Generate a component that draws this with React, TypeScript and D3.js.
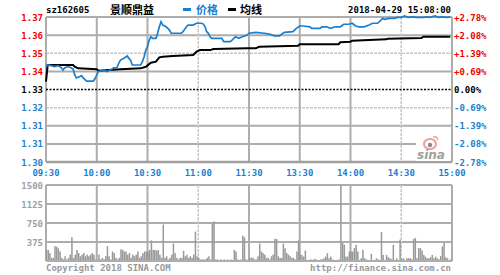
import React from "react";
import * as d3 from "d3";

const TITLE_CODE = "sz162605";
const TITLE_NAME = "景顺鼎益";
const LEGEND = ["价格", "均线"];
const DATE_TEXT = "2018-04-29 15:08:00";
const COPYRIGHT = "Copyright 2018 SINA.COM";
const URL_TEXT = "http://finance.sina.com.cn";

const PRICE_LABELS = ["1.37", "1.36", "1.35", "1.34", "1.33", "1.32", "1.31", "1.31", "1.30"];
const PCT_LABELS = ["+2.78%", "+2.08%", "+1.39%", "+0.69%", "0.00%", "-0.69%", "-1.39%", "-2.08%", "-2.78%"];
const TIME_LABELS = ["09:30", "10:00", "10:30", "11:00", "11:30", "13:30", "14:00", "14:30", "15:00"];
const TIME_MINUTES = [0, 30, 60, 90, 120, 150, 180, 210, 240];
const VOL_TICKS = [1500, 1125, 750, 375];

const PREV_CLOSE = 1.331;
const PRICE_MIN = 1.294;
const PRICE_MAX = 1.368;

// [minute index, price]
const PRICE_SERIES: [number, number][] = [
  [0, 1.3425], [1, 1.3435], [3, 1.3432], [5, 1.3427], [7, 1.3432], [9, 1.3422], [10, 1.3409], [11, 1.342],
  [13, 1.3427], [15, 1.342], [16, 1.3415], [17, 1.3384], [18, 1.3369], [20, 1.3376], [21, 1.3381], [22, 1.3369],
  [24, 1.3353], [26, 1.3353], [28, 1.3353], [29, 1.3366], [30, 1.3384], [31, 1.3402], [32, 1.3404], [34, 1.3409],
  [36, 1.3402], [38, 1.3409], [40, 1.342], [42, 1.3422], [43, 1.3444], [44, 1.346], [46, 1.3469], [48, 1.3481],
  [49, 1.3469], [50, 1.346], [51, 1.3435], [54, 1.3435], [56, 1.3435], [57, 1.3452], [58, 1.3477], [59, 1.3511],
  [60, 1.3528], [61, 1.3562], [62, 1.3579], [63, 1.3571], [65, 1.3571], [66, 1.3597], [67, 1.363], [68, 1.3656],
  [69, 1.3639], [71, 1.363], [72, 1.3622], [73, 1.3613], [74, 1.3597], [80, 1.3597], [81, 1.3605], [83, 1.363],
  [84, 1.3639], [87, 1.3639], [89, 1.3648], [92, 1.3648], [93, 1.3644], [94, 1.363], [95, 1.3605], [96, 1.3597],
  [97, 1.3579], [98, 1.3571], [104, 1.3571], [105, 1.3554], [109, 1.3554], [110, 1.3562], [111, 1.3571], [112, 1.3579],
  [114, 1.3571], [116, 1.3579], [119, 1.3588], [120, 1.3597], [124, 1.3602], [129, 1.3597], [132, 1.3593], [135, 1.3584],
  [138, 1.3584], [140, 1.3597], [141, 1.3602], [146, 1.3605], [148, 1.3622], [150, 1.3634], [152, 1.3634], [156, 1.363],
  [157, 1.3622], [162, 1.3622], [163, 1.363], [166, 1.363], [168, 1.3622], [171, 1.363], [174, 1.363], [176, 1.3643],
  [179, 1.3643], [181, 1.3648], [183, 1.3634], [185, 1.363], [188, 1.363], [191, 1.3639], [193, 1.3648], [196, 1.3648],
  [198, 1.3664], [199, 1.3673], [200, 1.3668], [203, 1.3673], [206, 1.3673], [208, 1.3678], [210, 1.3678], [212, 1.3685],
  [214, 1.3678], [217, 1.3681], [219, 1.3678], [223, 1.3678], [225, 1.3681], [227, 1.3678], [230, 1.3685], [232, 1.3678],
  [234, 1.3681], [237, 1.3678], [239, 1.3681],
];

const AVG_SERIES: [number, number][] = [
  [0, 1.335], [1, 1.3435], [16, 1.3435], [17, 1.3426], [19, 1.3418], [30, 1.3413], [31, 1.3406], [44, 1.3413],
  [56, 1.3418], [59, 1.3426], [62, 1.3447], [65, 1.3452], [67, 1.3474], [69, 1.3477], [75, 1.3481], [87, 1.3486],
  [89, 1.3503], [91, 1.3511], [97, 1.3511], [99, 1.3517], [119, 1.352], [124, 1.352], [126, 1.3528], [149, 1.3533],
  [150, 1.3541], [173, 1.3541], [174, 1.3551], [180, 1.3554], [181, 1.3559], [201, 1.3566], [202, 1.3569], [222, 1.3573],
  [223, 1.3579], [239, 1.3579],
];

const VOLUME_AM = [
  219, 219, 156, 62, 62, 294, 281, 250, 188, 62,
  31, 94, 31, 62, 125, 469, 62, 125, 219, 156,
  94, 125, 156, 94, 125, 94, 125, 156, 125, 31,
  20, 125, 31, 62, 31, 94, 294, 94, 31, 188,
  156, 62, 31, 62, 231, 219, 188, 188, 125, 156,
  62, 125, 94, 125, 188, 62, 94, 156, 188, 188,
  188, 219, 406, 219, 219, 206, 219, 125, 62, 719,
  62, 94, 31, 62, 125, 344, 156, 62, 31, 62,
  62, 200, 94, 125, 62, 94, 62, 125, 581, 94,
  62, 31, 31, 31, 31, 62, 94, 31, 737, 781,
  31, 31, 20, 31, 20, 31, 20, 31, 20, 31,
  20, 219, 188, 31, 20, 31, 500, 469, 31, 20,
];
const VOLUME_PM = [
  62, 62, 62, 31, 31, 94, 344, 188, 156, 125,
  62, 62, 31, 94, 125, 437, 437, 94, 62, 62,
  344, 250, 156, 125, 94, 62, 62, 31, 188, 406,
  125, 120, 87, 208, 20, 20, 33, 20, 33, 40,
  20, 20, 33, 33, 54, 87, 154, 54, 87, 33,
  20, 20, 20, 33, 1630, 355, 321, 87, 87, 188,
  188, 188, 255, 321, 188, 20, 54, 221, 54, 33,
  20, 20, 141, 20, 20, 54, 33, 20, 570, 120,
  20, 120, 74, 54, 33, 321, 20, 54, 20, 422,
  40, 54, 20, 54, 54, 54, 33, 436, 456, 54,
  255, 255, 208, 120, 87, 54, 54, 74, 120, 54,
  87, 54, 33, 101, 288, 355, 74, 54, 20, 33,
];

const BLUE = "#1b7fd0";
const RED = "#f00000";
const GRID = "#adadad";
const MONO = "'DejaVu Sans Mono', 'Liberation Mono', monospace";
const CJK = "'Noto Sans CJK SC', sans-serif";

export default function App() {
  const L = 46, R = 452, T = 17, B = 162;
  const VT = 185, VB = 261;
  const x = d3.scaleLinear().domain([0, 240]).range([L, R]);
  const y = d3.scaleLinear().domain([PRICE_MIN, PRICE_MAX]).range([B, T]);
  const yv = d3.scaleLinear().domain([0, 1500]).range([VB, VT]).clamp(true);

  const rowVals = d3.range(9).map((k) => PRICE_MAX - (k * (PRICE_MAX - PRICE_MIN)) / 8);
  const line = d3.line<[number, number]>().x((d) => x(d[0])).y((d) => y(d[1]));
  const volumes = [...VOLUME_AM, ...VOLUME_PM];
  const dottedRows = [2, 5];
  const dottedCols = [3, 7];

  return (
    <svg width={500} height={275} style={{ position: "absolute", left: 0, top: 0, background: "#fff" }}>
      {/* header */}
      <text x={46} y={13} fontFamily={MONO} fontWeight="bold" fontSize={9} fill="#000">{TITLE_CODE}</text>
      <text x={110} y={13.5} fontFamily={CJK} fontWeight="bold" fontSize={11} fill="#000">{TITLE_NAME}</text>
      <rect x={183} y={8} width={8} height={3} fill={BLUE} />
      <text x={196} y={13.5} fontFamily={CJK} fontWeight="bold" fontSize={11} fill={BLUE}>{LEGEND[0]}</text>
      <rect x={228} y={8} width={8} height={3} fill="#000" />
      <text x={240} y={13.5} fontFamily={CJK} fontWeight="bold" fontSize={11} fill="#000">{LEGEND[1]}</text>
      <text x={451} y={12.5} textAnchor="end" fontFamily={MONO} fontWeight="bold" fontSize={9} fill="#000">{DATE_TEXT}</text>

      {/* price grid */}
      {rowVals.map((v, k) =>
        k === 4 ? null : (
          <line key={"h" + k} x1={L} x2={R} y1={y(v)} y2={y(v)}
            stroke={dottedRows.includes(k) ? "#c8c8c8" : GRID}
            strokeWidth={dottedRows.includes(k) ? 1.5 : 2}
            strokeDasharray={dottedRows.includes(k) ? "3,1" : undefined} />
        )
      )}
      {TIME_MINUTES.map((m, k) => (
        <line key={"v" + k} x1={x(m)} x2={x(m)} y1={T} y2={B}
          stroke={dottedCols.includes(k) ? "#c8c8c8" : GRID}
          strokeWidth={dottedCols.includes(k) ? 1.5 : 2}
          strokeDasharray={dottedCols.includes(k) ? "3,1" : undefined} />
      ))}
      <line x1={L} x2={R} y1={B} y2={B} stroke="#a0a0a0" strokeWidth={2.5} />
      <line x1={L} x2={R} y1={y(PREV_CLOSE)} y2={y(PREV_CLOSE)} stroke="#000" strokeWidth={1.5} strokeDasharray="2,1.5" />

      {/* sina logo */}
      <rect x={416} y={136} width={35} height={25} fill="#fff" />
      <ellipse cx={430} cy={144} rx={6} ry={5} fill="none" stroke="#f4a0a0" strokeWidth={2.2} />
      <circle cx={430} cy={145} r={2.2} fill="#888" />
      <path d="M433,137 q4,-1 5,3" fill="none" stroke="#f4a0a0" strokeWidth={1.5} />
      <text x={417} y={159} fontFamily="'DejaVu Sans', sans-serif" fontStyle="italic" fontWeight="bold" fontSize={12} fill="#a0a0a0">sina</text>

      {/* series */}
      <path d={line(AVG_SERIES) || ""} fill="none" stroke="#000" strokeWidth={2} />
      <path d={line(PRICE_SERIES) || ""} fill="none" stroke={BLUE} strokeWidth={1.7} />

      {/* axis labels */}
      {PRICE_LABELS.map((t, k) => (
        <text key={"pl" + k} x={43} y={y(rowVals[k]) + 3.5} textAnchor="end" fontFamily={MONO} fontWeight="bold" fontSize={9}
          fill={k < 4 ? RED : k === 4 ? "#000" : BLUE}>{t}</text>
      ))}
      {PCT_LABELS.map((t, k) => (
        <text key={"pr" + k} x={454} y={y(rowVals[k]) + 3.5} fontFamily={MONO} fontWeight="bold" fontSize={9}
          fill={k < 4 ? RED : k === 4 ? "#000" : BLUE}>{t}</text>
      ))}
      {TIME_LABELS.map((t, k) => (
        <text key={"tl" + k} x={x(TIME_MINUTES[k])} y={176} textAnchor="middle" fontFamily={MONO} fontWeight="bold" fontSize={9} fill={BLUE}>{t}</text>
      ))}

      {/* volume grid */}
      {VOL_TICKS.map((v, k) => (
        <line key={"vh" + k} x1={L} x2={R} y1={yv(v)} y2={yv(v)} stroke={GRID} strokeWidth={2} />
      ))}
      {TIME_MINUTES.map((m, k) => (
        <line key={"vv" + k} x1={x(m)} x2={x(m)} y1={VT} y2={VB}
          stroke={dottedCols.includes(k) ? "#c8c8c8" : GRID}
          strokeWidth={dottedCols.includes(k) ? 1.5 : 2}
          strokeDasharray={dottedCols.includes(k) ? "3,1" : undefined} />
      ))}
      {volumes.map((v, i) => (
        <rect key={"b" + i} x={x(i) - 0.2} y={yv(v)} width={1.5} height={VB - yv(v)} fill="#999" />
      ))}
      <line x1={L} x2={R} y1={VB} y2={VB} stroke={GRID} strokeWidth={2} />
      {VOL_TICKS.map((v, k) => (
        <text key={"vl" + k} x={43} y={yv(v) + 3.5} textAnchor="end" fontFamily={MONO} fontWeight="bold" fontSize={9} fill="#a0a0a0">{v}</text>
      ))}

      {/* footer */}
      <text x={46} y={271} fontFamily={MONO} fontWeight="bold" fontSize={9} fill="#999">{COPYRIGHT}</text>
      <text x={451} y={271} textAnchor="end" fontFamily={MONO} fontWeight="bold" fontSize={9} fill="#999">{URL_TEXT}</text>
    </svg>
  );
}
